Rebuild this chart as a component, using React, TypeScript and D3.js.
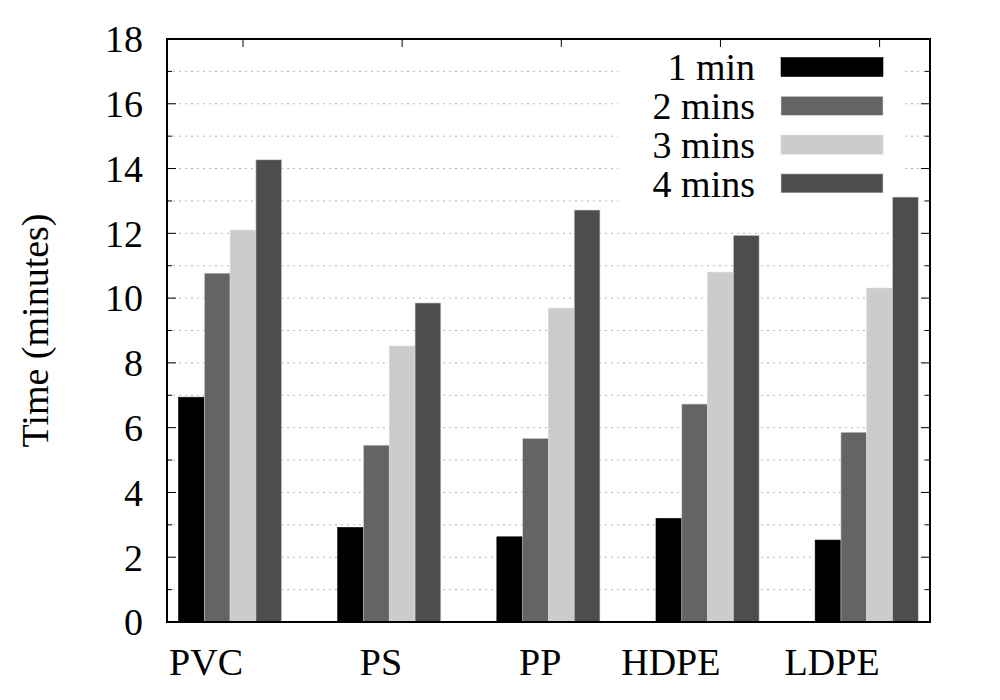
import React from "react";
import * as d3 from "d3";

const categories = ["PVC", "PS", "PP", "HDPE", "LDPE"];
const seriesNames = ["1 min", "2 mins", "3 mins", "4 mins"];
const oneMin = [6.94, 2.92, 2.63, 3.2, 2.53];
const twoMins = [10.77, 5.46, 5.67, 6.73, 5.86];
const threeMins = [12.1, 8.52, 9.69, 10.8, 10.31];
const fourMins = [14.27, 9.85, 12.72, 11.94, 13.12];
const yTicks = [0, 2, 4, 6, 8, 10, 12, 14, 16, 18];

const series = [oneMin, twoMins, threeMins, fourMins];
const colors = ["#000000", "#646464", "#cccccc", "#4d4d4d"];

const App: React.FC = () => {
  const width = 1000;
  const height = 700;
  const plot = { left: 167, right: 930, top: 39, bottom: 622 };

  const xScale = d3.scaleLinear().domain([0, 4]).range([243, 879.6]);
  const yScale = d3.scaleLinear().domain([0, 18]).range([plot.bottom, plot.top]);
  const barW = 0.162;
  const font = "Liberation Serif";
  const fs = 38;
  const minor = d3.range(0, 19, 1);

  return (
    <svg
      width={width}
      height={height}
      style={{ position: "absolute", left: 0, top: 0, background: "#fff", fontFamily: font }}
    >
      {/* grid */}
      {minor.slice(1, -1).map((v) => (
        <line
          key={"g" + v}
          x1={plot.left}
          x2={plot.right}
          y1={yScale(v)}
          y2={yScale(v)}
          stroke="#b5b5b5"
          strokeWidth={1}
          strokeDasharray="2,4"
        />
      ))}

      {/* legend background */}
      <rect x={618} y={plot.top + 1} width={287} height={165} fill="#fff" />

      {/* x ticks */}
      {categories.map((c, i) => (
        <g key={"xt" + i}>
          <line x1={xScale(i)} x2={xScale(i)} y1={plot.top} y2={plot.top + 8} stroke="#000" />
          <line x1={xScale(i)} x2={xScale(i)} y1={plot.bottom} y2={plot.bottom - 8} stroke="#000" />
        </g>
      ))}

      {/* bars */}
      {series.map((vals, j) =>
        vals.map((v, i) => {
          const x0 = xScale(i + (j - 2.5) * barW);
          const x1 = xScale(i + (j - 1.5) * barW);
          return (
            <rect
              key={`b${j}-${i}`}
              x={x0}
              y={yScale(v)}
              width={x1 - x0}
              height={yScale(0) - yScale(v)}
              fill={colors[j]}
              stroke={j === 0 ? "#000" : "#d8d8d8"}
              strokeWidth={0.6}
            />
          );
        })
      )}

      {/* y ticks */}
      {minor.map((v) => {
        const len = v % 2 === 0 ? 9 : 5;
        return (
          <g key={"yt" + v}>
            <line x1={plot.left} x2={plot.left + len} y1={yScale(v)} y2={yScale(v)} stroke="#000" />
            <line x1={plot.right} x2={plot.right - len} y1={yScale(v)} y2={yScale(v)} stroke="#000" />
          </g>
        );
      })}

      {yTicks.map((v) => (
        <text
          key={"yl" + v}
          x={143}
          y={yScale(v)}
          dy="0.35em"
          textAnchor="end"
          fontSize={fs}
          fontFamily={font}
          fill="#000"
        >
          {v}
        </text>
      ))}

      {categories.map((c, i) => (
        <text key={"xl" + i} x={xScale(i)} y={675} textAnchor="end" fontSize={fs} fontFamily={font} fill="#000">
          {c}
        </text>
      ))}

      <text
        transform={`translate(48, ${(plot.top + plot.bottom) / 2}) rotate(-90)`}
        textAnchor="middle"
        fontSize={fs}
        fontFamily={font}
        fill="#000"
      >
        Time (minutes)
      </text>

      {/* legend */}
      {seriesNames.map((name, j) => {
        const cy = 67 + j * 38.8;
        return (
          <g key={"lg" + j}>
            <text x={755} y={cy} dy="0.35em" textAnchor="end" fontSize={fs} fontFamily={font} fill="#000">
              {name}
            </text>
            <rect x={781} y={cy - 9.5} width={102} height={19} fill={colors[j]} stroke={j === 0 ? "#000" : "#d8d8d8"} strokeWidth={0.6} />
          </g>
        );
      })}

      {/* frame */}
      <rect
        x={plot.left}
        y={plot.top}
        width={plot.right - plot.left}
        height={plot.bottom - plot.top}
        fill="none"
        stroke="#000"
        strokeWidth={2}
      />
    </svg>
  );
};

export default App;
